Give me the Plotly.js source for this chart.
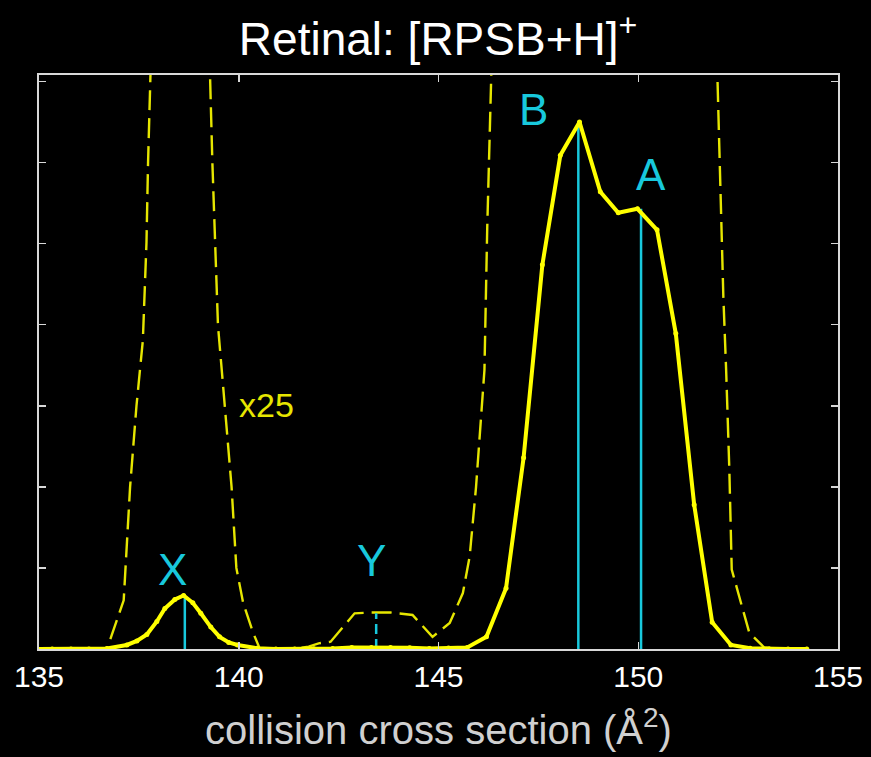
<!DOCTYPE html>
<html>
<head>
<meta charset="utf-8">
<script src="https://cdn.plot.ly/plotly-3.0.1.min.js"></script>
<style>
html,body{margin:0;padding:0;background:#000;}
#chart{width:871px;height:757px;}
</style>
</head>
<body>
<div id="chart"></div>
<script>
// Solid trace: measured arrival-time distribution (collision cross section, Å^2)
var ccsX = [134.86, 135.33, 135.8, 136.25, 136.7, 137.2, 137.45, 137.7, 137.95, 138.15,
            138.4, 138.62, 138.85, 139.05, 139.3, 139.52, 139.75, 139.97, 140.45, 140.93,
            141.4, 141.88, 142.35, 142.83, 143.32, 143.8, 144.28, 144.77, 145.25, 145.72,
            146.2, 146.69, 147.13, 147.6, 148.05, 148.53, 149.05, 149.5, 149.98, 150.47,
            150.94, 151.4, 151.85, 152.32, 152.8, 153.28, 153.75, 154.22];
var intensity = [0, 0, 0, 0, 0.005, 0.05, 0.1, 0.18, 0.34, 0.5,
                 0.61, 0.66, 0.57, 0.44, 0.27, 0.15, 0.08, 0.05, 0.01, 0,
                 0, 0.003, 0.005, 0.017, 0.018, 0.018, 0.016, 0.006, 0.012, 0.02,
                 0.15, 0.75, 2.36, 4.74, 6.09, 6.5, 5.64, 5.38, 5.43, 5.17,
                 3.89, 1.78, 0.33, 0.05, 0.01, 0, 0, 0];

// Dashed trace: the same distribution magnified x25
var zoomX = [134.86, 136.25, 136.7, 136.82, 137.12, 137.28, 137.44, 137.6, 137.69, 137.73,
             137.79, 137.83, 138.62, 139.24, 139.28, 139.34, 139.40, 139.48, 139.65, 139.82,
             139.94, 140.11, 140.36, 140.53, 141.4, 141.75, 142.0, 142.3, 142.9, 143.3,
             143.8, 144.35, 144.85, 145.28, 145.61, 145.78, 145.94, 146.08, 146.15, 146.22,
             146.28, 146.32, 146.36, 148.53, 151.92, 151.98, 152.04, 152.13, 152.2, 152.28,
             152.34, 152.57, 152.78, 153.15, 153.5, 154.22];
var zoomY = [0, 0, 0, 0.17, 0.6, 2.0, 3.0, 3.81, 5.01, 6.0,
             7.09, 7.8, 16.5, 7.8, 7.09, 6.0, 5.01, 3.99, 3.0, 2.0,
             1.0, 0.57, 0.2, 0, 0, 0.03, 0.07, 0.09, 0.44, 0.45,
             0.45, 0.42, 0.15, 0.32, 0.69, 1.14, 2.0, 2.9, 3.44, 5.2,
             6.4, 7.0, 7.8, 162, 7.8, 7.09, 5.88, 4.35, 3.44, 2.21,
             0.98, 0.57, 0.2, 0.02, 0, 0];

// Conformer markers
var peakNames = ['X', 'Y', 'B', 'A'];
var peakX = [138.65, 143.44, 148.5, 150.07];
var peakY = [0.66, 0.44, 6.5, 5.43];
var peakDash = ['solid', 'dash', 'solid', 'solid'];

var xTicks = [135, 140, 145, 150, 155];
var magLabel = 'x25';

var CYAN = '#18c8dc';
var YEL = '#ffff00';
var YEL_D = '#e6e600';

var traces = [];
traces.push({
  x: zoomX, y: zoomY, type: 'scatter', mode: 'lines',
  line: {color: YEL_D, width: 2.4, dash: '20px,8px'},
  hoverinfo: 'skip', showlegend: false
});
for (var i = 0; i < peakNames.length; i++) {
  traces.push({
    x: [peakX[i], peakX[i]], y: [0, peakY[i]], type: 'scatter', mode: 'lines',
    line: {color: CYAN, width: 2.5, dash: peakDash[i] === 'dash' ? '10px,5px' : 'solid'},
    hoverinfo: 'skip', showlegend: false
  });
}
traces.push({
  x: ccsX, y: intensity, type: 'scatter', mode: 'lines+markers',
  line: {color: YEL, width: 4},
  marker: {color: YEL, size: 5, symbol: 'circle'},
  hoverinfo: 'skip', showlegend: false
});

// label offsets (in data units) relative to each peak top
var labOffX = [-0.32, -0.11, -1.12, 0.26];
var labOffY = [0.32, 0.65, 0.15, 0.42];
var annotations = [];
for (var j = 0; j < peakNames.length; j++) {
  annotations.push({
    x: peakX[j] + labOffX[j], y: peakY[j] + labOffY[j], xref: 'x', yref: 'y',
    text: peakNames[j], showarrow: false, xanchor: 'center', yanchor: 'middle',
    font: {family: 'Liberation Sans, Arial, sans-serif', size: 44, color: CYAN}
  });
}
annotations.push({
  x: 140.7, y: 3.01, xref: 'x', yref: 'y', text: magLabel, showarrow: false,
  xanchor: 'center', yanchor: 'middle',
  font: {family: 'Liberation Sans, Arial, sans-serif', size: 34, color: YEL_D}
});

var layout = {
  width: 871, height: 757,
  paper_bgcolor: '#000', plot_bgcolor: '#000',
  margin: {l: 39, r: 33, t: 75, b: 108},
  font: {family: 'Liberation Sans, Arial, sans-serif', color: '#fff'},
  title: {
    text: 'Retinal: [RPSB+H]<sup>+</sup>',
    x: 0.503, xanchor: 'center', y: 0.948, yanchor: 'middle',
    font: {family: 'Liberation Sans, Arial, sans-serif', size: 46, color: '#fff'}
  },
  xaxis: {
    range: [135, 155], tickvals: xTicks, ticktext: xTicks.map(String),
    ticks: 'inside', ticklen: 7, tickwidth: 1.5, tickcolor: '#d8d8d8',
    showline: true, linecolor: '#d8d8d8', linewidth: 2, mirror: 'ticks',
    showgrid: false, zeroline: false,
    tickfont: {size: 30, color: '#fff'},
    title: {text: 'collision cross section (Å<sup>2</sup>)', standoff: 24,
            font: {size: 40, color: '#d0d0d0'}}
  },
  yaxis: {
    range: [0, 7.08], dtick: 1, tick0: 0,
    ticks: 'inside', ticklen: 7, tickwidth: 1.5, tickcolor: '#d8d8d8',
    showline: true, linecolor: '#d8d8d8', linewidth: 2, mirror: 'ticks',
    showgrid: false, zeroline: false, showticklabels: false
  },
  annotations: annotations,
  showlegend: false
};

Plotly.newPlot('chart', traces, layout, {displayModeBar: false, staticPlot: true});
</script>
</body>
</html>
